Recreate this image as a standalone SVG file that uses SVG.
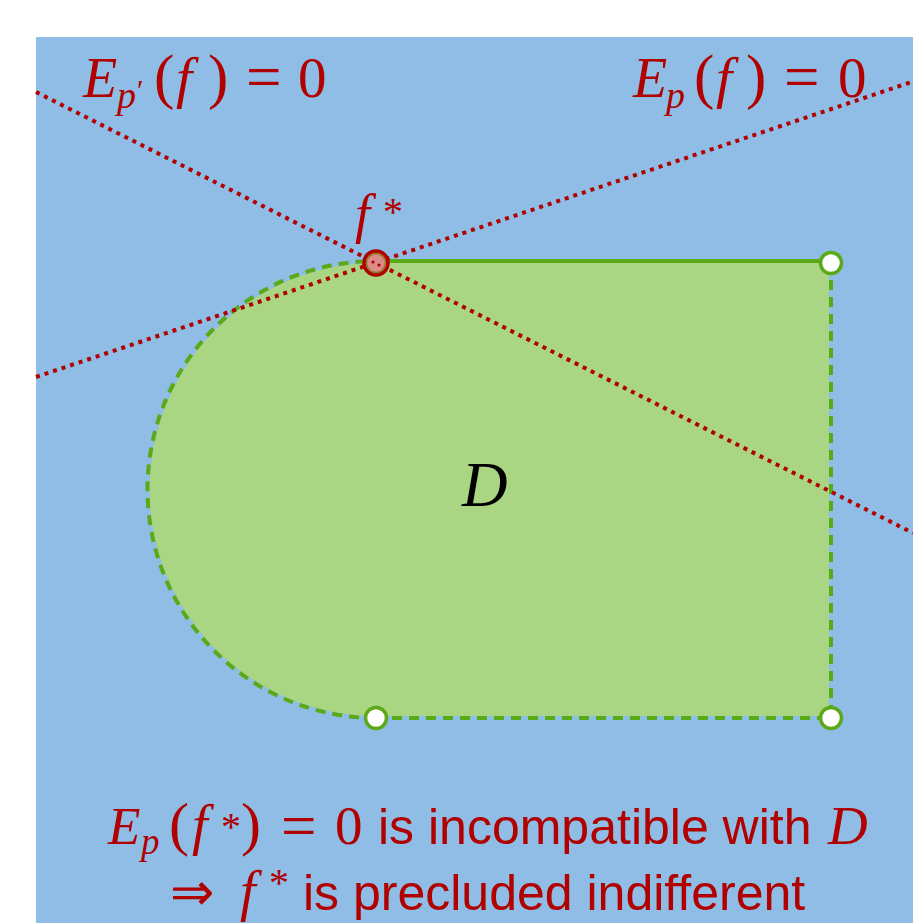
<svg xmlns="http://www.w3.org/2000/svg" width="913" height="923" viewBox="0 0 913 923">
<style>
.red{fill:#b00000}
.it{font-family:"Liberation Serif","Times New Roman",serif;font-style:italic}
.rm{font-family:"Liberation Serif","Times New Roman",serif;font-style:normal}
.sf{font-family:"Liberation Sans",Arial,sans-serif;font-style:normal}
.dot{fill:none;stroke:#b00000;stroke-width:4;stroke-dasharray:4 5}
.gd{fill:none;stroke:#5aaa18;stroke-width:4;stroke-dasharray:10 7}
.vtx{fill:#ffffff;stroke:#5aaa18;stroke-width:3.5}
</style>
<rect x="0" y="0" width="913" height="923" fill="#ffffff"/>
<rect x="36" y="37" width="877" height="886" fill="#8fbde6"/>
<g id="region-D">
<path d="M376,263 L829,263 L829,716 L376,716 A226.5,226.5 0 0 1 376,263 Z" fill="#aad582"/>
<path d="M376,261 L831,261" fill="none" stroke="#5aaa18" stroke-width="4"/>
<path class="gd" d="M831,263 L831,718 L376,718"/>
<path class="gd" d="M376,718 A228.5,228.5 0 0 1 376,261"/>
<text class="it" x="462" y="506" font-size="63" fill="#000000">D</text>
</g>
<g id="connectors">
<path class="dot" d="M36,92 L913,533"/>
<path class="dot" d="M36,377 L913,81.5"/>
</g>
<g id="vertex-top-right"><circle class="vtx" cx="831" cy="263" r="10.5"/></g>
<g id="vertex-bottom-left"><circle class="vtx" cx="376" cy="718" r="10.5"/></g>
<g id="vertex-bottom-right"><circle class="vtx" cx="831" cy="718" r="10.5"/></g>
<g id="f-star">
<circle cx="376" cy="263" r="12" fill="#dc8a8a" stroke="#b00000" stroke-width="3.5"/>
<circle cx="376" cy="263" r="9.5" fill="none" stroke="#8c7a20" stroke-width="1.5"/>
<circle cx="373" cy="262" r="1.6" fill="#b00000"/>
<circle cx="379" cy="265" r="1.6" fill="#b00000"/>
<text class="red" font-size="54"><tspan class="it" x="355" y="232">f</tspan><tspan class="rm" x="383" y="225" font-size="40">*</tspan></text>
</g>
<g id="label-Ep-prime">
<text class="red" font-size="56"><tspan class="it" x="83" y="97">E</tspan><tspan class="it" x="117" y="108" font-size="38">p</tspan><tspan class="rm" x="137" y="100" font-size="30">′</tspan><tspan class="rm" x="154" y="97" font-size="61">(</tspan><tspan class="it" x="176" y="97" font-size="58">f</tspan><tspan class="rm" x="208" y="97" font-size="61">)</tspan><tspan class="rm" x="246" y="98" font-size="63">=</tspan><tspan class="rm" x="298" y="97" font-size="57">0</tspan></text>
</g>
<g id="label-Ep">
<text class="red" font-size="56"><tspan class="it" x="633" y="97">E</tspan><tspan class="it" x="666" y="108" font-size="38">p</tspan><tspan class="rm" x="694" y="97" font-size="61">(</tspan><tspan class="it" x="716" y="97" font-size="58">f</tspan><tspan class="rm" x="746" y="97" font-size="61">)</tspan><tspan class="rm" x="784" y="98" font-size="63">=</tspan><tspan class="rm" x="838" y="97" font-size="57">0</tspan></text>
</g>
<g id="caption">
<text class="red" font-size="53"><tspan class="it" x="108" y="844">E</tspan><tspan class="it" x="141" y="854" font-size="37">p</tspan><tspan class="rm" x="169" y="844" font-size="60">(</tspan><tspan class="it" x="192" y="844" font-size="56">f</tspan><tspan class="rm" x="221" y="840" font-size="40">*</tspan><tspan class="rm" x="241" y="844" font-size="60">)</tspan><tspan class="rm" x="281" y="847" font-size="63">=</tspan><tspan class="rm" x="335" y="844" font-size="55">0</tspan><tspan class="sf" x="378" y="844" font-size="50">is incompatible with</tspan><tspan class="it" x="828" y="844" font-size="55">D</tspan></text>
<text class="red" font-size="53"><tspan class="rm" x="170" y="910">⇒</tspan><tspan class="it" x="240" y="910" font-size="56">f</tspan><tspan class="rm" x="269" y="896" font-size="40">*</tspan><tspan class="sf" x="303" y="910" font-size="50">is precluded indifferent</tspan></text>
</g>
</svg>
